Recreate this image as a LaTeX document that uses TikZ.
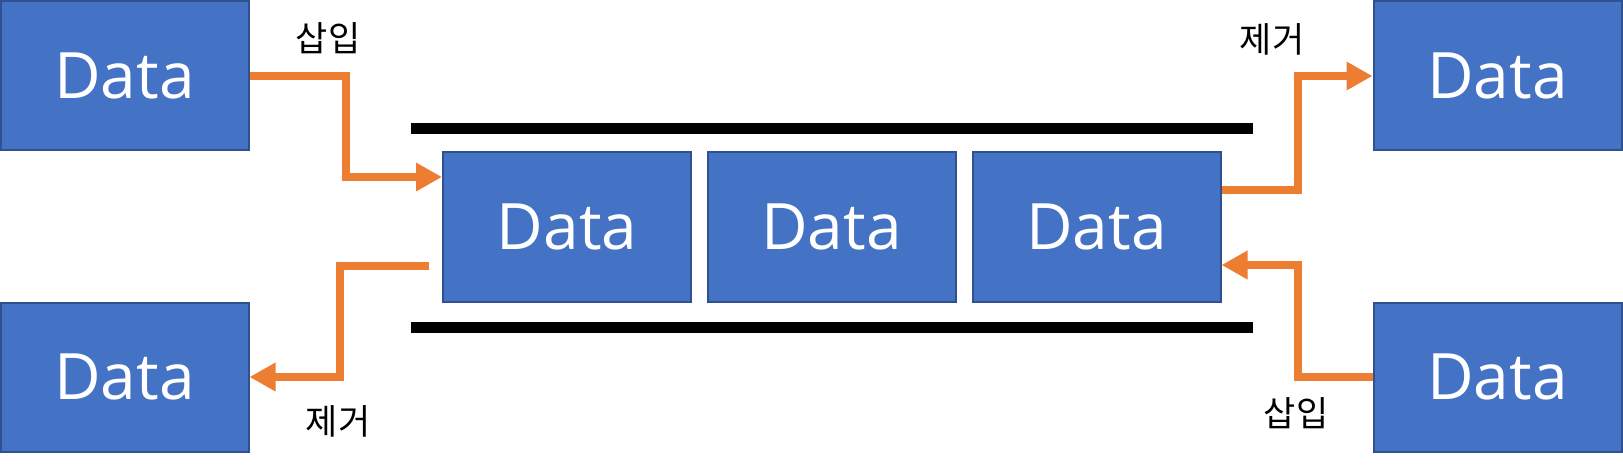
\documentclass[tikz,border=0pt]{standalone}
\usepackage{fontspec}
\setmainfont{Open Sans}
\newfontfamily\kor{Noto Sans CJK KR}
\usetikzlibrary{arrows.meta}
\definecolor{boxfill}{HTML}{4472C4}
\definecolor{boxline}{HTML}{2F528F}
\definecolor{arr}{HTML}{ED7D31}
\begin{document}
\begin{tikzpicture}[x=1pt,y=-1pt,
  databox/.style={draw=boxline,line width=2pt,fill=boxfill,minimum width=248pt,minimum height=149pt,inner sep=0pt,text=white,font=\fontsize{64}{70}\selectfont},
  rail/.style={line width=11.5pt,black},
  conn/.style={draw=arr,line width=8pt,-{Triangle[length=26pt,width=27pt]}},
  lbl/.style={font=\kor\fontsize{35}{40}\selectfont,text=black,inner sep=0pt}]
\useasboundingbox (0,0) rectangle (1623,468);
\node[databox] (tl) at (124.5,76) {Data};
\node[databox] (bl) at (124.5,377) {Data};
\node[databox] (tr) at (1497.5,76) {Data};
\node[databox] (br) at (1497.5,377) {Data};
\node[databox] (m1) at (567,227) {Data};
\node[databox] (m2) at (831.5,227) {Data};
\node[databox] (m3) at (1096.5,227) {Data};
\coordinate (railTL) at (411,128.5);
\coordinate (railTR) at (1253,128.5);
\coordinate (railBL) at (411,327.5);
\coordinate (railBR) at (1253,327.5);
\draw[rail] (railTL) -- (railTR);
\draw[rail] (railBL) -- (railBR);
\coordinate (remL) at (429,266);
\draw[conn] (tl.east) -- (346,76) |- ([yshift=50pt]m1.west);
\draw[conn] (remL) -- (340,266) |- (bl.east);
\draw[conn] ([yshift=37pt]m3.east) -- (1298,190) |- (tr.west);
\draw[conn] (br.west) -- (1298,377) |- ([yshift=-38pt]m3.east);
\node[lbl] (l1) at (328,38) {삽입};
\node[lbl] (l2) at (1272,39) {제거};
\node[lbl] (l3) at (338,421) {제거};
\node[lbl] (l4) at (1296,413) {삽입};
\end{tikzpicture}
\end{document}
